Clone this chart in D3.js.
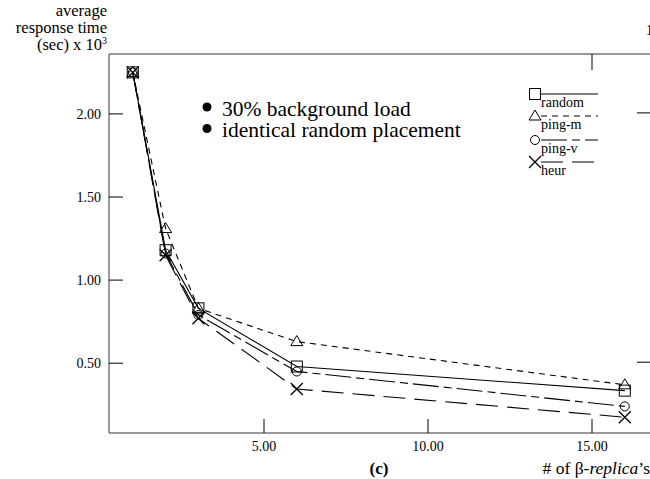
<!DOCTYPE html>
<html>
<head>
<meta charset="utf-8">
<script src="https://cdn.jsdelivr.net/npm/d3@7"></script>
<style>
  body { margin: 0; background: #fff; }
  svg { font-family: "Liberation Serif", "DejaVu Serif", serif; }
</style>
</head>
<body>
<svg width="650" height="479"></svg>
<script>
const replicas = [1, 2, 3, 6, 16];
const random = [2.25, 1.18, 0.83, 0.48, 0.335];
const pingM = [2.25, 1.31, 0.83, 0.63, 0.37];
const pingV = [2.25, 1.16, 0.79, 0.45, 0.24];
const heur = [2.25, 1.15, 0.77, 0.345, 0.175];
const xTicks = [5, 10, 15];
const yTicks = [0.5, 1.0, 1.5, 2.0];
const seriesNames = ['random', 'ping-m', 'ping-v', 'heur'];

const series = [
  { name: 'random', values: random, dash: null, marker: 'square' },
  { name: 'ping-m', values: pingM, dash: '6,5', marker: 'triangle' },
  { name: 'ping-v', values: pingV, dash: '26,5,8,5', marker: 'circle' },
  { name: 'heur', values: heur, dash: '22,9', marker: 'cross' }
];

const svg = d3.select('svg');

const plotLeft = 109, plotTop = 54, plotBottom = 433;

const xScale = d3.scaleLinear().domain([0, 5]).range([100, 264]);
const yScale = d3.scaleLinear().domain([0, 0.5]).range([446.3, 363.2]);

// frame
svg.append('line').attr('x1', plotLeft).attr('x2', plotLeft).attr('y1', plotTop).attr('y2', plotBottom)
  .attr('stroke', '#777').attr('stroke-width', 1.5);
svg.append('line').attr('x1', plotLeft).attr('x2', 650).attr('y1', plotBottom).attr('y2', plotBottom)
  .attr('stroke', '#777').attr('stroke-width', 1.5);
svg.append('line').attr('x1', plotLeft).attr('x2', 650).attr('y1', plotTop).attr('y2', plotTop)
  .attr('stroke', '#777').attr('stroke-width', 1.5);

// y axis ticks
yTicks.forEach(t => {
  svg.append('line').attr('x1', plotLeft).attr('x2', plotLeft + 14)
    .attr('y1', yScale(t)).attr('y2', yScale(t)).attr('stroke', '#000');
  svg.append('text').attr('x', 101).attr('y', yScale(t) + 5)
    .attr('text-anchor', 'end').attr('font-size', '14px').text(t.toFixed(2));
});
// right side ticks (partially visible)
[2.0, 0.5].forEach(t => {
  svg.append('line').attr('x1', 637).attr('x2', 650)
    .attr('y1', yScale(t) - 1).attr('y2', yScale(t) - 1).attr('stroke', '#000');
});

// x axis ticks
xTicks.forEach(t => {
  svg.append('line').attr('x1', xScale(t)).attr('x2', xScale(t))
    .attr('y1', plotBottom).attr('y2', plotBottom - 14).attr('stroke', '#000');
  svg.append('text').attr('x', xScale(t)).attr('y', 451)
    .attr('text-anchor', 'middle').attr('font-size', '14px').text(t.toFixed(2));
});
svg.append('line').attr('x1', xScale(15)).attr('x2', xScale(15))
  .attr('y1', plotTop).attr('y2', plotTop + 16).attr('stroke', '#000');
svg.append('text').attr('x', 646).attr('y', 35).attr('font-size', '14px').text('1');

// axis labels
const yl = svg.append('text').attr('text-anchor', 'end').attr('font-size', '16.5px');
yl.append('tspan').attr('x', 107).attr('y', 16).text('average');
yl.append('tspan').attr('x', 107).attr('y', 32.5).text('response time');
const yl3 = svg.append('text').attr('x', 107).attr('y', 49.5)
  .attr('text-anchor', 'end').attr('font-size', '16.5px');
yl3.append('tspan').text('(sec) x 10');
yl3.append('tspan').attr('dy', -6).attr('font-size', '10px').text('3');

svg.append('text').attr('x', 379).attr('y', 474).attr('text-anchor', 'middle')
  .attr('font-size', '17px').attr('font-weight', 'bold').text('(c)');

const xl = svg.append('text').attr('x', 650).attr('y', 474)
  .attr('text-anchor', 'end').attr('font-size', '17.5px');
xl.append('tspan').text('# of β-');
xl.append('tspan').attr('font-style', 'italic').text('replica');
xl.append('tspan').text('’s');

// annotation
const notes = ['30% background load', 'identical random placement'];
notes.forEach((n, i) => {
  svg.append('circle').attr('cx', 207).attr('cy', 107 + i * 21.5).attr('r', 4.5).attr('fill', '#000');
  svg.append('text').attr('x', 222).attr('y', 115.5 + i * 21.5)
    .attr('font-size', '21.5px').text(n);
});

// markers
const drawMarker = (g, type, x, y) => {
  if (type === 'square') {
    g.append('rect').attr('x', x - 5.5).attr('y', y - 5.5).attr('width', 11).attr('height', 11)
      .attr('fill', 'none').attr('stroke', '#000');
  } else if (type === 'triangle') {
    g.append('path').attr('d', `M${x},${y - 6}L${x + 6},${y + 4}L${x - 6},${y + 4}Z`)
      .attr('fill', 'none').attr('stroke', '#000');
  } else if (type === 'circle') {
    g.append('circle').attr('cx', x).attr('cy', y).attr('r', 4.5)
      .attr('fill', 'none').attr('stroke', '#000');
  } else {
    g.append('path').attr('d', `M${x - 6},${y - 6}L${x + 6},${y + 6}M${x + 6},${y - 6}L${x - 6},${y + 6}`)
      .attr('fill', 'none').attr('stroke', '#000').attr('stroke-width', 1.3);
  }
};

const line = d3.line().x(d => xScale(d[0])).y(d => yScale(d[1]));

series.forEach(s => {
  const pts = replicas.map((r, i) => [r, s.values[i]]);
  svg.append('path').datum(pts).attr('d', line)
    .attr('fill', 'none').attr('stroke', '#000').attr('stroke-width', 1.1)
    .attr('stroke-dasharray', s.dash);
  const g = svg.append('g');
  pts.forEach(p => drawMarker(g, s.marker, xScale(p[0]), yScale(p[1])));
});

// legend
const legendY = [94, 116, 140, 162];
series.forEach((s, i) => {
  const g = svg.append('g');
  drawMarker(g, s.marker, 535, legendY[i]);
  g.append('line').attr('x1', 541).attr('x2', 598).attr('y1', legendY[i]).attr('y2', legendY[i])
    .attr('stroke', '#000').attr('stroke-width', 1.1).attr('stroke-dasharray', s.dash);
  g.append('text').attr('x', 541).attr('y', legendY[i] + 13)
    .attr('font-size', '14px').text(seriesNames[i]);
});
</script>
</body>
</html>
